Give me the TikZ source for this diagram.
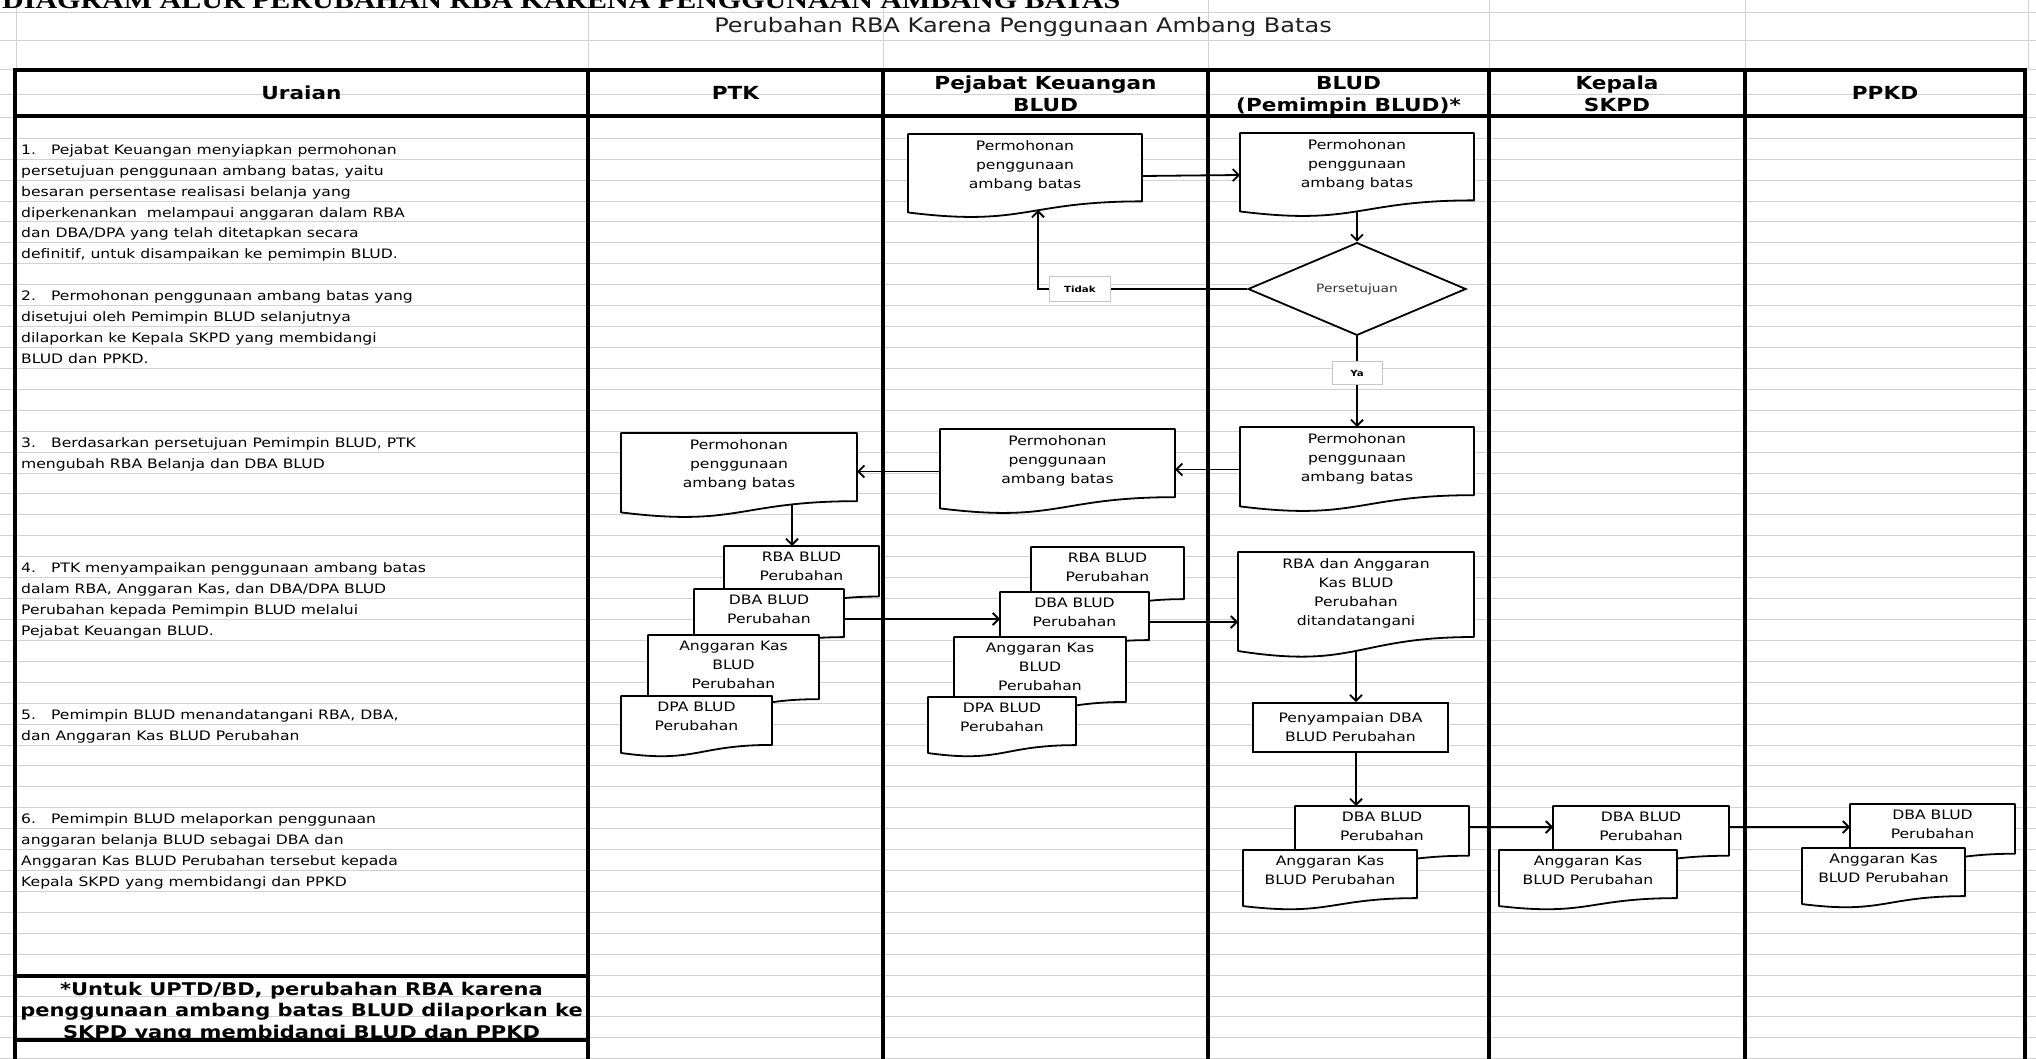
\documentclass[tikz,border=0pt]{standalone}
\usepackage{fontspec}
\setmainfont{DejaVu Sans}[FakeStretch=1.2]
\newfontfamily\titlefont{Liberation Serif}[FakeStretch=1.2]
\usetikzlibrary{arrows.meta,calc,shapes.geometric}

% document shape: name, left, top, width, height, text
\newcommand{\docshape}[6]{%
  \node[docbox, minimum width=#4pt, minimum height=#5pt] (#1) at (#2+#4/2, #3+#5/2) {};
  \draw[docline] (#1.north west) -- (#1.north east)
    -- ($(#1.north east)!0.802!(#1.south east)$)
    .. controls ($(#1.north)!0.802!(#1.south)$) and ($(#1.north)!1.1075!(#1.south)$)
    .. ($(#1.north west)!0.934!(#1.south west)$) -- cycle;
  \node[doctext, anchor=north] (#1-txt) at ([yshift=-6pt]#1.north) {#6};
  \coordinate (#1-b) at ($(#1.north)!0.933!(#1.south)$);
}

\begin{document}
\begin{tikzpicture}[x=1pt, y=-1pt, >={Straight Barb[length=6pt,width=12pt]}]
        \tikzstyle{gridline} = [gray!35, line width=1pt]
        \tikzstyle{tableline} = [black, line width=4pt]
        \tikzstyle{docbox} = [rectangle, inner sep=0pt, outer sep=0pt]
        \tikzstyle{docline} = [draw=black, fill=white, line width=1.8pt, line join=round]
        \tikzstyle{doctext} = [inner sep=0pt, align=center, font=\fontsize{13}{19}\selectfont]
        \tikzstyle{procbox} = [rectangle, draw=black, fill=white, line width=1.8pt, inner sep=0pt, align=center, font=\fontsize{13}{19}\selectfont]
        \tikzstyle{decision} = [diamond, draw=black, fill=white, line width=1.8pt, inner sep=0pt, font=\fontsize{11.5}{14}\selectfont, text=black!80]
        \tikzstyle{labelbox} = [rectangle, draw=gray!45, fill=white, line width=1pt, inner sep=0pt, font=\fontsize{8.5}{10}\selectfont\bfseries]
        \tikzstyle{conn} = [draw=black, line width=1.8pt, ->]
        \tikzstyle{headtext} = [anchor=base, inner sep=0pt, font=\fontsize{18}{21}\selectfont\bfseries]
        \tikzstyle{uraiantext} = [anchor=base west, inner sep=0pt, font=\fontsize{13}{16}\selectfont]
        \tikzstyle{foottext} = [anchor=base, inner sep=0pt, font=\fontsize{17.5}{21}\selectfont\bfseries]

        \path[use as bounding box] (0,0) rectangle (2036,1059);
        \clip (0,0) rectangle (2036,1059);
        \fill[white] (0,0) rectangle (2036,1059);

        % sheet grid
        \foreach \y in {12.3, 40.7, 70, 95}
            \draw[gridline] (0,\y) -- (2036,\y);
        \foreach \k in {0,...,45}
            \draw[gridline] (0,117.4+20.92*\k) -- (2036,117.4+20.92*\k);
        \foreach \x in {16.7, 588, 883, 1208, 1489, 1745, 2028}
            \draw[gridline] (\x,0) -- (\x,70);

        % titles
        \node[anchor=base west, inner sep=0pt, font=\titlefont\bfseries\fontsize{25}{30}\selectfont] (title) at (2,8.5) {DIAGRAM ALUR PERUBAHAN RBA KARENA PENGGUNAAN AMBANG BATAS};
        \node[anchor=base, inner sep=0pt, text=black!88, font=\fontsize{20}{24}\selectfont] (subtitle) at (1023,33) {Perubahan RBA Karena Penggunaan Ambang Batas};

        % table
        \draw[tableline] (15,70) rectangle (2025,1080);
        \draw[tableline] (15,116) -- (2025,116);
        \foreach \x in {588, 883, 1208, 1489, 1745}
            \draw[tableline] (\x,70) -- (\x,1080);
        \draw[tableline] (15,975.5) -- (588,975.5);
        \draw[tableline] (15,1040) -- (588,1040);

        \node[headtext] (h-uraian) at (301.5,100) {Uraian};
        \node[headtext] (h-ptk) at (735.5,100) {PTK};
        \node[headtext] (h-pk1) at (1045.5,90) {Pejabat Keuangan};
        \node[headtext] (h-pk2) at (1045.5,112) {BLUD};
        \node[headtext] (h-blud1) at (1348.5,90) {BLUD};
        \node[headtext] (h-blud2) at (1348.5,112) {(Pemimpin BLUD)*};
        \node[headtext] (h-kep1) at (1617,90) {Kepala};
        \node[headtext] (h-kep2) at (1617,112) {SKPD};
        \node[headtext] (h-ppkd) at (1885,100) {PPKD};

        % uraian
        \foreach \k/\txt in {
            0/{1.\hspace{15pt}Pejabat Keuangan menyiapkan permohonan},
            1/{persetujuan penggunaan ambang batas, yaitu},
            2/{besaran persentase realisasi belanja yang},
            3/{diperkenankan\ \ melampaui anggaran dalam RBA},
            4/{dan DBA/DPA yang telah ditetapkan secara},
            5/{definitif, untuk disampaikan ke pemimpin BLUD.},
            7/{2.\hspace{15pt}Permohonan penggunaan ambang batas yang},
            8/{disetujui oleh Pemimpin BLUD selanjutnya},
            9/{dilaporkan ke Kepala SKPD yang membidangi},
            10/{BLUD dan PPKD.},
            14/{3.\hspace{15pt}Berdasarkan persetujuan Pemimpin BLUD, PTK},
            15/{mengubah RBA Belanja dan DBA BLUD},
            20/{4.\hspace{15pt}PTK menyampaikan penggunaan ambang batas},
            21/{dalam RBA, Anggaran Kas, dan DBA/DPA BLUD},
            22/{Perubahan kepada Pemimpin BLUD melalui},
            23/{Pejabat Keuangan BLUD.},
            27/{5.\hspace{15pt}Pemimpin BLUD menandatangani RBA, DBA,},
            28/{dan Anggaran Kas BLUD Perubahan},
            32/{6.\hspace{15pt}Pemimpin BLUD melaporkan penggunaan},
            33/{anggaran belanja BLUD sebagai DBA dan},
            34/{Anggaran Kas BLUD Perubahan tersebut kepada},
            35/{Kepala SKPD yang membidangi dan PPKD}}
            \node[uraiantext] (u-\k) at (21,154.3+20.92*\k) {\txt};

        \foreach \i/\txt in {
            0/{*Untuk UPTD/BD, perubahan RBA karena},
            1/{penggunaan ambang batas BLUD dilaporkan ke},
            2/{SKPD yang membidangi BLUD dan PPKD}}
            \node[foottext] (fn-\i) at (301.5,995+21.5*\i) {\txt};

        % step 1 and 2
        \docshape{P1}{908}{134}{234}{84}{Permohonan\\penggunaan\\ambang batas}
        \docshape{B1}{1240}{133}{234}{84}{Permohonan\\penggunaan\\ambang batas}
        \node[decision, minimum width=218pt, minimum height=71pt] (dia) at (1357,289) {Persetujuan};
        \coordinate (P1-in) at ($(P1.north west)+(130,76)$);

        % step 3
        \docshape{B2}{1240}{427}{234}{85}{Permohonan\\penggunaan\\ambang batas}
        \docshape{P2}{940}{429}{235}{85}{Permohonan\\penggunaan\\ambang batas}
        \docshape{K1}{621}{433}{236}{85}{Permohonan\\penggunaan\\ambang batas}
        \coordinate (K1-out) at ($(K1.north west)+(171,71)$);

        % step 4
        \docshape{KRBA}{724}{546}{155}{63}{RBA BLUD\\Perubahan}
        \docshape{KDBA}{694}{589}{150}{60}{DBA BLUD\\Perubahan}
        \docshape{KAK}{648}{635}{171}{80}{Anggaran Kas\\BLUD\\Perubahan}
        \docshape{KDPA}{621}{696}{151}{61}{DPA BLUD\\Perubahan}
        \docshape{PRBA}{1031}{547}{153}{65}{RBA BLUD\\Perubahan}
        \docshape{PDBA}{1000}{592}{149}{60}{DBA BLUD\\Perubahan}
        \docshape{PAK}{954}{637}{172}{81}{Anggaran Kas\\BLUD\\Perubahan}
        \docshape{PDPA}{928}{697}{148}{60}{DPA BLUD\\Perubahan}
        \docshape{B3}{1238}{552}{236}{106}{RBA dan Anggaran\\Kas BLUD\\Perubahan\\ditandatangani}

        % step 5 and 6
        \node[procbox, minimum width=195pt, minimum height=49pt] (B4) at (1350.5,727.5) {Penyampaian DBA\\BLUD Perubahan};
        \docshape{B5}{1295}{806}{174}{62}{DBA BLUD\\Perubahan}
        \docshape{B6}{1243}{850}{174}{60}{Anggaran Kas\\BLUD Perubahan}
        \docshape{S1}{1553}{806}{176}{62}{DBA BLUD\\Perubahan}
        \docshape{S2}{1499}{850}{178}{60}{Anggaran Kas\\BLUD Perubahan}
        \docshape{D1}{1850}{804}{165}{62}{DBA BLUD\\Perubahan}
        \docshape{D2}{1802}{848}{163}{60}{Anggaran Kas\\BLUD Perubahan}

        % connectors
        \draw[conn] (P1.east) -- (B1.west);
        \draw[conn] (B1-b) -- (dia.north);
        \draw[conn] (dia.west) -| node[labelbox, pos=0.4, minimum width=61pt, minimum height=25pt] (tidak) {Tidak} (P1-in);
        \draw[conn] (dia.south) -- node[labelbox, pos=0.41, minimum width=50pt, minimum height=23pt] (ya) {Ya} (B2.north);
        \draw[conn] (B2.west) -- (B2.west -| P2.east);
        \draw[conn] (P2.west) -- (P2.west -| K1.east);
        \draw[conn] (K1-out) -- (K1-out |- KRBA.north);
        \draw[conn] (KDBA.east) -- (KDBA.east -| PDBA.west);
        \draw[conn] (PDBA.east) -- (PDBA.east -| B3.west);
        \draw[conn] (B3-b) -- (B3-b |- B4.north);
        \draw[conn] (B3-b |- B4.south) -- (B3-b |- B5.north);
        \draw[conn] ([yshift=-21pt]B5.north east) -- ([yshift=-21pt]S1.north west);
        \draw[conn] ([yshift=-21pt]S1.north east) -- ([yshift=-21pt]S1.north east -| D1.west);
    \end{tikzpicture}
\end{document}
